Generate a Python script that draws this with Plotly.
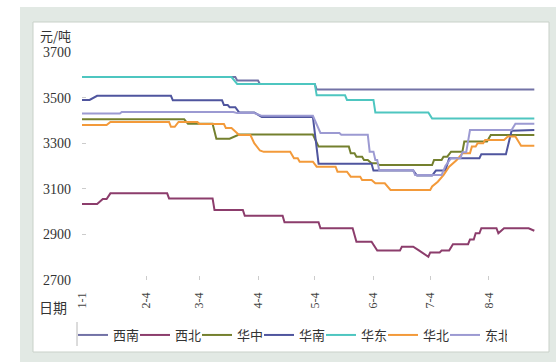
import plotly.graph_objects as go

YEAR = "2013"

# Regional price series (元/吨); each list holds the dates where the level changes
xinan_dates = ["01-01", "03-23", "03-24", "04-04", "04-05", "05-04", "05-05", "08-28"]
xinan_vals = [3590, 3590, 3575, 3575, 3560, 3560, 3535, 3535]

xibei_dates = ["01-01", "01-09", "01-12", "01-14", "01-16", "02-15", "02-16", "03-11", "03-12",
               "03-27", "03-28", "04-17", "04-18", "05-06", "05-07", "05-24", "05-26", "06-03",
               "06-06", "06-18", "06-19", "06-25", "06-28", "07-03", "07-04", "07-09", "07-10",
               "07-14", "07-16", "07-24", "07-25", "07-27", "07-28", "07-30", "07-31", "08-08",
               "08-09", "08-12", "08-25", "08-28"]
xibei_vals = [3033, 3033, 3055, 3055, 3080, 3080, 3058, 3058, 3007,
              3007, 2982, 2982, 2953, 2953, 2927, 2927, 2868, 2868,
              2829, 2829, 2846, 2846, 2830, 2802, 2821, 2821, 2829,
              2829, 2857, 2857, 2878, 2878, 2905, 2905, 2927, 2927,
              2905, 2927, 2927, 2916]

huazhong_dates = ["01-01", "02-24", "02-26", "03-11", "03-13", "03-20", "03-25", "05-03", "05-06",
                  "05-22", "05-23", "05-25", "05-26", "05-29", "05-30", "06-01", "06-03", "06-06",
                  "06-07", "07-05", "07-06", "07-10", "07-11", "07-13", "07-15", "07-21", "07-22",
                  "08-03", "08-05", "08-28"]
huazhong_vals = [3405, 3405, 3385, 3385, 3320, 3320, 3338, 3338, 3285,
                 3285, 3256, 3256, 3241, 3241, 3226, 3226, 3212, 3212,
                 3204, 3204, 3226, 3226, 3241, 3241, 3263, 3263, 3307,
                 3307, 3336, 3336]

huanan_dates = ["01-01", "01-05", "01-09", "02-17", "02-18", "03-16", "03-17", "03-19", "03-20",
                "03-23", "03-25", "04-02", "04-06", "05-03", "05-06", "06-03", "06-04", "06-25",
                "06-27", "07-05", "07-07", "07-12", "07-14", "07-30", "07-31", "08-13", "08-16",
                "08-28"]
huanan_vals = [3490, 3490, 3508, 3508, 3488, 3488, 3467, 3467, 3458,
               3458, 3435, 3435, 3415, 3415, 3210, 3210, 3180, 3180,
               3158, 3158, 3180, 3180, 3234, 3234, 3252, 3252, 3355,
               3358]

huadong_dates = ["01-01", "03-21", "03-24", "05-04", "05-05", "05-20", "05-21", "06-04", "06-05",
                 "07-03", "07-05", "08-28"]
huadong_vals = [3590, 3590, 3560, 3560, 3510, 3510, 3490, 3490, 3435,
                3435, 3408, 3408]

huabei_dates = ["01-01", "01-14", "01-16", "02-16", "02-17", "02-19", "02-21", "03-03", "03-04",
                "03-17", "03-18", "03-21", "03-25", "03-31", "04-02", "04-05", "04-07", "04-21",
                "04-23", "04-25", "04-26", "05-03", "05-05", "05-15", "05-16", "05-21", "05-23",
                "05-28", "05-29", "06-03", "06-05", "06-10", "06-13", "07-04", "07-05", "07-08",
                "07-11", "07-14", "07-18", "07-21", "07-25", "07-26", "07-28", "07-29", "08-01",
                "08-02", "08-12", "08-14", "08-18", "08-21", "08-28"]
huabei_vals = [3380, 3380, 3393, 3393, 3372, 3372, 3393, 3393, 3384,
               3384, 3367, 3367, 3336, 3336, 3300, 3268, 3262, 3262,
               3234, 3234, 3219, 3219, 3197, 3197, 3175, 3175, 3153,
               3153, 3139, 3139, 3124, 3124, 3095, 3095, 3110, 3131,
               3160, 3197, 3226, 3256, 3256, 3285, 3285, 3300, 3300,
               3314, 3314, 3329, 3329, 3289, 3289]

dongbei_dates = ["01-01", "01-21", "01-22", "03-22", "03-24", "04-02", "04-06", "05-03", "05-07",
                 "05-17", "05-18", "06-01", "06-02", "06-04", "06-05", "06-06", "06-07", "06-25",
                 "06-26", "07-10", "07-12", "07-15", "07-20", "07-21", "07-23", "07-25", "08-16",
                 "08-18", "08-28"]
dongbei_vals = [3430, 3430, 3437, 3437, 3432, 3432, 3420, 3420, 3345,
                3345, 3337, 3337, 3263, 3263, 3226, 3226, 3182, 3182,
                3160, 3160, 3200, 3234, 3234, 3260, 3260, 3358, 3358,
                3385, 3385]

tick_dates = ["01-01", "02-04", "03-04", "04-04", "05-04", "06-04", "07-04", "08-04"]
tick_text = ["1-1", "2-4", "3-4", "4-4", "5-4", "6-4", "7-4", "8-4"]
y_ticks = [2700, 2900, 3100, 3300, 3500, 3700]

series = [
    ("西南", xinan_dates, xinan_vals, "#7272a6"),
    ("西北", xibei_dates, xibei_vals, "#8c3d6c"),
    ("华中", huazhong_dates, huazhong_vals, "#74802e"),
    ("华南", huanan_dates, huanan_vals, "#4f559e"),
    ("华东", huadong_dates, huadong_vals, "#4ec6c0"),
    ("华北", huabei_dates, huabei_vals, "#f39a3a"),
    ("东北", dongbei_dates, dongbei_vals, "#9c9ad2"),
]


def full(dates):
    return [f"{YEAR}-{d}" for d in dates]


fig = go.Figure()
for name, d, v, c in series:
    fig.add_trace(go.Scatter(x=full(d), y=v, name=name, mode="lines",
                             line=dict(color=c, width=2)))

W, H = 556, 362
L, R, T, B = 82, 16, 52, 82
pw, ph = W - L - R, H - T - B


def px(x):
    return (x - L) / pw


def py(y):
    return (H - B - y) / ph


cjk = "Noto Sans CJK SC"
serif = "Liberation Serif"

shapes = [
    # outer tinted frame
    dict(type="rect", xref="paper", yref="paper", x0=px(20), x1=px(W + 2), y0=py(H + 2), y1=py(7),
         fillcolor="#e2e9e4", line=dict(width=0), layer="below"),
    # white chart panel
    dict(type="rect", xref="paper", yref="paper", x0=px(33), x1=px(549), y0=py(352), y1=py(22),
         fillcolor="#ffffff", line=dict(color="#c9d1c9", width=1), layer="below"),
    # divider left of the legend
    dict(type="line", xref="paper", yref="paper", x0=px(77), x1=px(77), y0=py(346), y1=py(322),
         line=dict(color="#b8b8b8", width=1)),
]

fig.update_layout(
    width=W, height=H,
    margin=dict(l=L, r=R, t=T, b=B, autoexpand=False),
    template="none",
    paper_bgcolor="#ffffff",
    plot_bgcolor="rgba(0,0,0,0)",
    shapes=shapes,
    showlegend=True,
    legend=dict(orientation="h", x=px(73), xanchor="left", y=py(335), yanchor="middle",
                font=dict(family=cjk, size=13, color="#333333"),
                entrywidth=17, entrywidthmode="pixels", itemwidth=30,
                bgcolor="rgba(0,0,0,0)", borderwidth=0),
    xaxis=dict(type="date", range=[f"{YEAR}-01-01", f"{YEAR}-08-31"],
               tickvals=full(tick_dates), ticktext=tick_text, tickangle=-90,
               tickfont=dict(family=serif, size=12, color="#444444"),
               ticks="inside", ticklen=4, tickcolor="#cccccc",
               ticklabelstandoff=9,
               showgrid=False, showline=False, zeroline=False, automargin=False),
    yaxis=dict(range=[2700, 3700], tickvals=y_ticks,
               tickfont=dict(family=serif, size=14, color="#333333"),
               ticks="inside", ticklen=4, tickcolor="#cccccc",
               ticklabelstandoff=10,
               showgrid=False, showline=False, zeroline=False, automargin=False),
    annotations=[
        dict(text="元/吨", xref="paper", yref="paper", x=px(55), y=py(35),
             xanchor="center", yanchor="middle",
             showarrow=False, font=dict(family=cjk, size=13, color="#333333")),
        dict(text="日期", xref="paper", yref="paper", x=px(53), y=py(307),
             xanchor="center", yanchor="middle",
             showarrow=False, font=dict(family=cjk, size=14, color="#333333")),
    ],
)

fig.write_html("out.html")
